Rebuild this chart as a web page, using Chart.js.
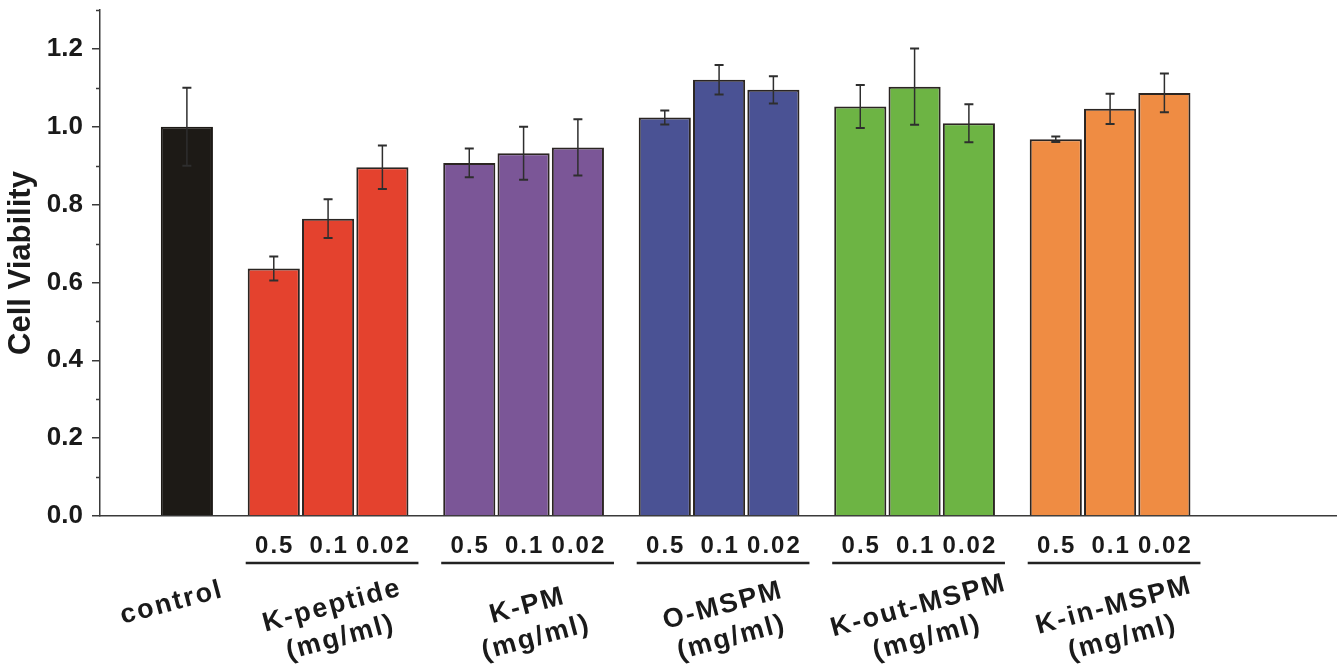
<!DOCTYPE html>
<html>
<head>
<meta charset="utf-8">
<title>Cell Viability</title>
<script src="https://cdn.jsdelivr.net/npm/chart.js@4.4.1/dist/chart.umd.min.js"></script>
<style>
  html, body { margin: 0; padding: 0; background: #ffffff; }
  #wrap { position: relative; width: 1343px; height: 665px; }
</style>
</head>
<body>
<div id="wrap"><canvas id="viabilityChart"></canvas></div>
<script>
// Datos
const controlLabel = "control";
const controlValue = 1.0;
const controlError = 0.1;

const groupNames = ["K-peptide", "K-PM", "O-MSPM", "K-out-MSPM", "K-in-MSPM"];
const concentrations = ["0.5", "0.1", "0.02"];
const unitLabel = "(mg/ml)";

const kPeptide = [0.636, 0.764, 0.896];
const kPeptideErr = [0.031, 0.05, 0.056];
const kPM = [0.907, 0.932, 0.947];
const kPMErr = [0.037, 0.068, 0.072];
const oMSPM = [1.024, 1.121, 1.095];
const oMSPMErr = [0.018, 0.038, 0.035];
const kOutMSPM = [1.052, 1.103, 1.009];
const kOutMSPMErr = [0.055, 0.098, 0.049];
const kInMSPM = [0.968, 1.046, 1.087];
const kInMSPMErr = [0.007, 0.039, 0.05];

const yTicks = [0.0, 0.2, 0.4, 0.6, 0.8, 1.0, 1.2];

// Colores
const controlColor = "#1d1a16";
const groupColors = ["#e4422e", "#7b5697", "#4a5294", "#6db444", "#ef8c43"];
const axisColor = "#3a3a3a";
const textColor = "#1a1a1a";
const fontFamily = "'Liberation Sans', Arial, sans-serif";

// Posiciones en unidades de barra
const controlPos = 1.6;
const firstGroupPos = 3.2;
const groupStep = 3.6;
const xMax = 22.76;

const groupValues = [kPeptide, kPM, oMSPM, kOutMSPM, kInMSPM];
const groupErrors = [kPeptideErr, kPMErr, oMSPMErr, kOutMSPMErr, kInMSPMErr];

const points = [{ x: controlPos, y: controlValue }];
const errors = [controlError];
const fills = [controlColor];
const borders = [controlColor];
groupValues.forEach((vals, g) => {
  vals.forEach((v, i) => {
    points.push({ x: firstGroupPos + g * groupStep + i, y: v });
    errors.push(groupErrors[g][i]);
    fills.push(groupColors[g]);
    borders.push("#2b2522");
  });
});

// Barras de error, marcas menores y etiquetas bajo el eje
const annotations = {
  id: "annotations",
  afterDatasetsDraw(chart) {
    const ctx = chart.ctx;
    const y = chart.scales.y;
    const x = chart.scales.x;
    const bars = chart.getDatasetMeta(0).data;

    ctx.save();
    // barras de error
    ctx.strokeStyle = "#2e2e2e";
    bars.forEach((bar, i) => {
      const v = points[i].y;
      const top = y.getPixelForValue(v + errors[i]);
      const bot = y.getPixelForValue(v - errors[i]);
      ctx.lineWidth = 1.5;
      ctx.beginPath();
      ctx.moveTo(bar.x, top);
      ctx.lineTo(bar.x, bot);
      ctx.stroke();
      ctx.lineWidth = 2;
      ctx.beginPath();
      ctx.moveTo(bar.x - 4.5, top);
      ctx.lineTo(bar.x + 4.5, top);
      ctx.moveTo(bar.x - 4.5, bot);
      ctx.lineTo(bar.x + 4.5, bot);
      ctx.stroke();
    });

    // marcas menores del eje y
    ctx.strokeStyle = axisColor;
    ctx.lineWidth = 1.5;
    for (let v = 0.1; v < 1.31; v += 0.2) {
      const py = Math.round(y.getPixelForValue(v)) + 0.5;
      ctx.beginPath();
      ctx.moveTo(x.left - 4, py);
      ctx.lineTo(x.left, py);
      ctx.stroke();
    }

    // concentraciones y subrayado
    ctx.fillStyle = textColor;
    ctx.strokeStyle = "#222222";
    ctx.textAlign = "center";
    ctx.textBaseline = "alphabetic";
    ctx.font = "bold 24px " + fontFamily;
    ctx.letterSpacing = "2px";
    groupNames.forEach((name, g) => {
      const first = bars[1 + g * 3];
      const last = bars[3 + g * 3];
      concentrations.forEach((c, i) => {
        ctx.fillText(c, bars[1 + g * 3 + i].x + 1, 553);
      });
      ctx.lineWidth = 2.5;
      ctx.beginPath();
      ctx.moveTo(first.x - first.width / 2 - 2, 563);
      ctx.lineTo(last.x + last.width / 2 + 10, 563);
      ctx.stroke();
    });

    // nombres de grupo inclinados
    const angle = -15 * Math.PI / 180;
    ctx.font = "bold 27px " + fontFamily;
    ctx.letterSpacing = "2px";
    ctx.textBaseline = "middle";
    ctx.save();
    ctx.translate(bars[0].x - 15, 603);
    ctx.rotate(angle);
    ctx.fillText(controlLabel, 0, 0);
    ctx.restore();
    groupNames.forEach((name, g) => {
      const mid = bars[2 + g * 3];
      ctx.save();
      ctx.translate(mid.x + 4, 606);
      ctx.rotate(angle);
      ctx.fillText(name, 0, 0);
      ctx.fillText(unitLabel, 0, 33);
      ctx.restore();
    });
    ctx.restore();
  },
};

const chart = new Chart(document.getElementById("viabilityChart"), {
  type: "bar",
  data: {
    datasets: [
      {
        data: points,
        backgroundColor: fills,
        borderColor: borders,
        borderWidth: 2,
        barPercentage: 0.96,
        categoryPercentage: 1,
      },
    ],
  },
  options: {
    responsive: true,
    maintainAspectRatio: false,
    animation: false,
    layout: { padding: { top: 10, right: 7, left: 0, bottom: 0 } },
    plugins: {
      legend: { display: false },
      tooltip: { enabled: false },
    },
    scales: {
      x: {
        type: "linear",
        min: 0,
        max: xMax,
        offset: false,
        grid: { display: false },
        border: { display: true, color: axisColor, width: 1.5 },
        ticks: { display: false, stepSize: 1, includeBounds: false },
        afterFit: (scale) => {
          scale.height = 149;
          scale.paddingLeft = 0;
          scale.paddingRight = 0;
        },
      },
      y: {
        min: 0,
        max: 1.3,
        afterBuildTicks: (scale) => {
          scale.ticks = yTicks.map((v) => ({ value: v }));
        },
        grid: {
          drawOnChartArea: false,
          drawTicks: true,
          tickLength: 8,
          color: axisColor,
          lineWidth: 1.5,
        },
        border: { display: true, color: axisColor, width: 1.5 },
        ticks: {
          padding: 9,
          color: textColor,
          font: { family: fontFamily, size: 26, weight: "bold" },
          callback: (v) => Number(v).toFixed(1),
        },
        title: {
          display: true,
          text: "Cell Viability",
          color: textColor,
          font: { family: fontFamily, size: 31, weight: "bold" },
          padding: { top: 3, bottom: 0 },
        },
        afterFit: (scale) => {
          scale.width = 100;
          scale.paddingTop = 0;
          scale.paddingBottom = 0;
        },
      },
    },
  },
  plugins: [annotations],
});
</script>
</body>
</html>
